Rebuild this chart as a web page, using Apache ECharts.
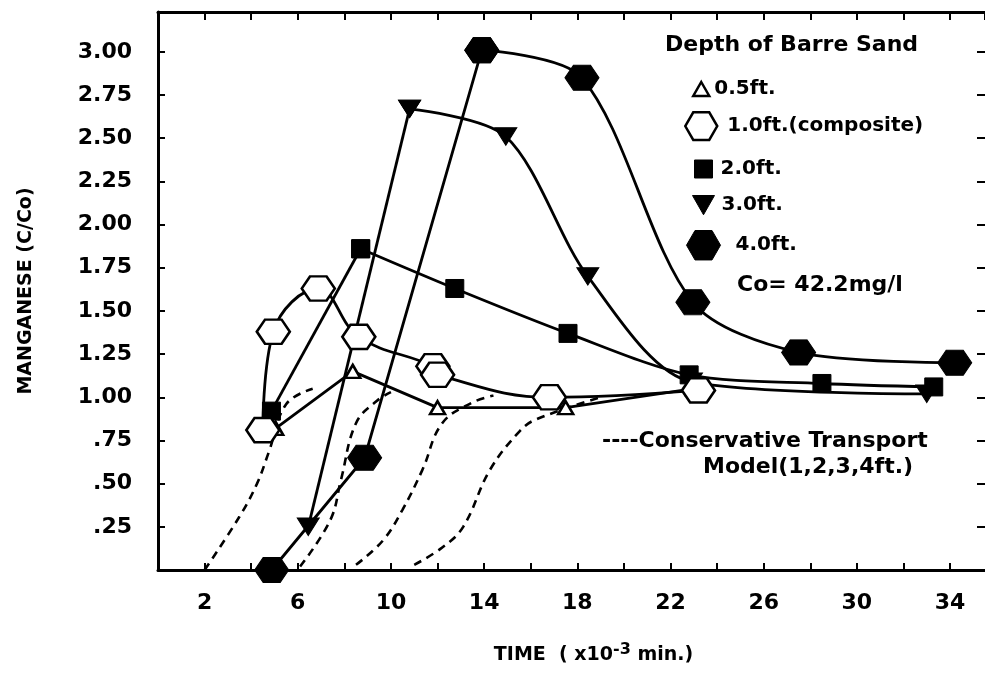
<!DOCTYPE html>
<html>
<head>
<meta charset="utf-8">
<script src="https://cdn.jsdelivr.net/npm/echarts@6/dist/echarts.min.js"></script>
<style>
html,body{margin:0;padding:0;background:#fff;}
#chart{width:985px;height:674px;}
</style>
</head>
<body>
<div id="chart"></div>
<script>
// ---- data (x: time x10^-3 min, y: C/Co) ----
const depth05 = [[5.05,0.82],[8.36,1.15],[12.0,0.94],[17.5,0.94],[23.0,1.05]];
const depth10 = [[4.5,0.81],[4.95,1.38],[6.88,1.63],[8.62,1.35],[11.8,1.18],[12.0,1.13],[16.8,1.0],[23.2,1.04]];
const depth20 = [[4.87,0.92],[8.7,1.86],[12.74,1.63],[17.6,1.37],[22.8,1.13],[28.5,1.08],[33.3,1.06]];
const depth30 = [[6.45,0.25],[10.8,2.67],[14.93,2.51],[18.45,1.70],[22.9,1.09],[33.0,1.02]];
const depth40 = [[4.88,0.0],[8.87,0.65],[13.9,3.01],[18.2,2.85],[22.96,1.55],[27.5,1.26],[34.2,1.20]];
const model1 = [[2.0,0.0],[3.5,0.31],[4.25,0.50],[4.75,0.68],[5.5,0.96],[6.64,1.05]];
const model2 = [[6.1,0.02],[7.4,0.29],[7.85,0.52],[8.5,0.85],[9.4,0.98],[10.0,1.03]];
const model3 = [[8.5,0.03],[9.65,0.17],[10.5,0.35],[11.35,0.58],[12.2,0.85],[13.5,0.97],[14.4,1.01]];
const model4 = [[11.0,0.03],[12.2,0.13],[13.1,0.25],[14.25,0.58],[15.5,0.80],[16.2,0.87],[19.0,1.0]];
const depthNames = ['0.5ft.','1.0ft.(composite)','2.0ft.','3.0ft.','4.0ft.'];
const xTickLabels = [2,6,10,14,18,22,26,30,34];

// ---- styling ----
const FONT = 'DejaVu Sans';
const HEX = 'path://M-1,0 L-0.5,-0.866 L0.5,-0.866 L1,0 L0.5,0.866 L-0.5,0.866 Z';
const DTRI = 'path://M-1,-0.85 L1,-0.85 L0,0.9 Z';
const LW = 2.8;
const openStyle = {color:'#fff', borderColor:'#000', borderWidth:2.5};
const fillStyle = {color:'#000', borderColor:'#000', borderWidth:1};

function lineSeries(name, data, smooth, symbol, size, style, z) {
  return {
    type:'line', name, data, smooth,
    symbol, symbolSize:size, symbolKeepAspect:true, showSymbol:true,
    lineStyle:{color:'#000', width:LW},
    itemStyle:style, z: z || 3, animation:false, clip:false
  };
}
function split(name, pts, brk, symbol, size, style, z) {
  return [
    lineSeries(name, pts.slice(0, brk+1), false, symbol, size, style, z),
    lineSeries(name, pts.slice(brk), 0.3, symbol, size, style, z)
  ];
}
function modelSeries(pts) {
  return {type:'line', name:'model', data:pts, smooth:0.4, symbol:'none',
    lineStyle:{color:'#000', width:2.6, type:[8,6]}, z:2, animation:false};
}

const series = [
  modelSeries(model1), modelSeries(model2), modelSeries(model3), modelSeries(model4),
  lineSeries(depthNames[0], depth05, false, 'triangle', [15,13], openStyle, 4),
  lineSeries(depthNames[1], depth10, 0.4, HEX, [33,28], openStyle, 5),
  ...split(depthNames[2], depth20, 1, 'rect', [18,18], fillStyle, 4),
  ...split(depthNames[3], depth30, 1, DTRI, [22,20], fillStyle, 4),
  ...split(depthNames[4], depth40, 2, HEX, [34,29], fillStyle, 4)
];

function legendItem(name, icon, left, top, w, h, style, pad) {
  return {
    left, top, padding:0, itemWidth:w, itemHeight:h, selectedMode:false,
    data:[{name, icon, itemStyle:style}],
    textStyle:{fontFamily:FONT, fontWeight:'bold', fontSize:20, color:'#000', padding:[0,0,0,pad]}
  };
}

const axisText = {fontFamily:FONT, fontWeight:'bold', color:'#000'};
function tick(len) { return {show:true, inside:true, length:len, lineStyle:{color:'#000', width:2}}; }
function line(show) { return {show:show, onZero:false, lineStyle:{color:'#000', width:3}}; }

const option = {
  backgroundColor:'#fff',
  animation:false,
  grid:{left:158, top:12, right:0, bottom:104},
  xAxis:[{
    type:'value', position:'bottom', min:0, max:35.5, interval:2,
    axisLine:line(true), axisTick:tick(7),
    splitLine:{show:false},
    axisLabel:{...axisText, fontSize:22, margin:22, showMaxLabel:false,
      formatter:v => xTickLabels.includes(v) ? String(v) : ''},
    name:'TIME  ( x10{sup|-3} min.)', nameLocation:'middle', nameGap:72,
    nameTextStyle:{...axisText, fontSize:19, padding:[0,0,0,44],
      rich:{sup:{fontFamily:FONT, fontWeight:'bold', fontSize:16, color:'#000', padding:[0,0,10,0]}}}
  },{
    type:'value', position:'top', min:0, max:35.5, interval:2,
    axisLine:line(true), axisTick:tick(8),
    axisLabel:{show:false}, splitLine:{show:false}
  }],
  yAxis:[{
    type:'value', position:'left', min:0, max:3.231, interval:0.25,
    axisLine:line(true), axisTick:tick(7),
    splitLine:{show:false},
    axisLabel:{...axisText, fontSize:22, margin:26, showMinLabel:false, showMaxLabel:false,
      formatter:v => { const q=v*4; if (v===0 || Math.abs(q-Math.round(q))>1e-6) return ''; let s=v.toFixed(2); if (v<1) s=s.slice(1); return s; }},
    name:'MANGANESE (C/Co)', nameLocation:'middle', nameGap:122, nameRotate:90,
    nameTextStyle:{...axisText, fontSize:19}
  },{
    type:'value', position:'right', min:0, max:3.231, interval:0.25,
    axisLine:line(false), axisTick:tick(8),
    axisLabel:{show:false}, splitLine:{show:false}
  }],
  legend:[
    legendItem(depthNames[0], 'triangle', 692, 79, 16, 14, openStyle, 0),
    legendItem(depthNames[1], HEX, 684, 111, 32, 28, openStyle, 5),
    legendItem(depthNames[2], 'rect', 694, 159, 18, 18, fillStyle, 3),
    legendItem(depthNames[3], DTRI, 692, 195, 22, 20, fillStyle, 2),
    legendItem(depthNames[4], HEX, 686, 230, 34, 30, fillStyle, 10)
  ],
  graphic:[
    {type:'text', left:665, top:34, style:{text:'Depth of Barre Sand', fontFamily:FONT, fontWeight:'bold', fontSize:22, fill:'#000'}},
    {type:'text', left:737, top:274, style:{text:'Co= 42.2mg/l', fontFamily:FONT, fontWeight:'bold', fontSize:22, fill:'#000'}},
    {type:'text', left:602, top:430, style:{text:'----Conservative Transport', fontFamily:FONT, fontWeight:'bold', fontSize:22, fill:'#000'}},
    {type:'text', left:703, top:456, style:{text:'Model(1,2,3,4ft.)', fontFamily:FONT, fontWeight:'bold', fontSize:22, fill:'#000'}}
  ],
  series
};

const chart = echarts.init(document.getElementById('chart'), null, {renderer:'canvas'});
chart.setOption(option);
</script>
</body>
</html>
